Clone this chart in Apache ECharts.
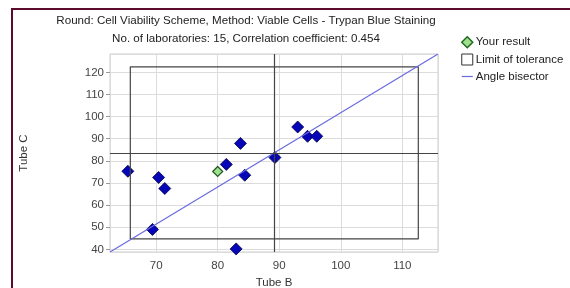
<!DOCTYPE html>
<html>
<head>
<meta charset="utf-8">
<script src="https://cdn.jsdelivr.net/npm/echarts@6/dist/echarts.min.js"></script>
<style>
html, body { margin: 0; padding: 0; background: #fff; }
#frame { position: absolute; left: 11px; top: 8px; width: 559px; height: 280px;
         border-top: 2px solid #5c0b2c; border-left: 2px solid #5c0b2c; }
#chart { position: absolute; left: 0; top: 0; width: 570px; height: 288px; }
</style>
</head>
<body>
<div id="frame"></div>
<div id="chart"></div>
<script>
// axis ranges (Tube B / Tube C)
var xRange = [62.5, 115.8];
var yRange = [38.8, 128.3];
// laboratories
var tubeB = [65.4, 70.4, 71.4, 69.4, 81.4, 83.7, 84.4, 83.0, 89.3, 93.0, 94.6, 96.1];
var tubeC = [75.3, 72.5, 67.5, 49.0, 78.4, 87.9, 73.5, 40.2, 81.5, 95.3, 91.1, 91.1];
// own result
var yourResult = [80.0, 75.2];
// limit of tolerance box and its centre
var limitB = [65.8, 112.6];
var limitC = [44.7, 122.5];
var centre = [89.2, 83.6];

var font = 'Liberation Sans, Arial, sans-serif';

var labPoints = [];
for (var i = 0; i < tubeB.length; i++) labPoints.push([tubeB[i], tubeC[i]]);

var boxPoints = [
    [limitB[0], limitC[0]], [limitB[1], limitC[0]],
    [limitB[1], limitC[1]], [limitB[0], limitC[1]],
    [limitB[0], limitC[0]]
];

var myChart = echarts.init(document.getElementById('chart'));

var option = {
    animation: false,
    title: {
        text: 'Round: Cell Viability Scheme, Method: Viable Cells - Trypan Blue Staining\nNo. of laboratories: 15, Correlation coefficient: 0.454',
        left: 241,
        top: 7,
        textAlign: 'center',
        textStyle: { fontFamily: font, fontSize: 11.6, fontWeight: 'normal', color: '#222', lineHeight: 18 }
    },
    legend: {
        orient: 'vertical',
        left: 456,
        top: 31,
        itemGap: 5,
        itemWidth: 11,
        itemHeight: 11,
        textStyle: { fontFamily: font, fontSize: 11.5, color: '#222', padding: [0, 0, 0, -2] },
        data: [
            { name: 'Your result', icon: 'path://M0,4 L4,0 L8,4 L4,8 Z', itemStyle: { color: '#9fe08f', borderColor: '#1f6a1f', borderWidth: 1.5 } },
            { name: 'Limit of tolerance', icon: 'rect', itemStyle: { color: '#fff', borderColor: '#333', borderWidth: 1 } },
            { name: 'Angle bisector', icon: 'path://M0,0 L12,0 L12,1.3 L0,1.3 Z', itemStyle: { color: '#6a6ae0' } }
        ]
    },
    grid: {
        left: 110,
        right: 132,
        top: 54,
        bottom: 36,
        outerBoundsMode: 'none',
        containLabel: false,
        show: true,
        borderColor: '#cfcfcf',
        borderWidth: 1
    },
    xAxis: {
        type: 'value',
        min: xRange[0],
        max: xRange[1],
        minInterval: 10,
        maxInterval: 10,
        name: 'Tube B',
        nameLocation: 'middle',
        nameGap: 24,
        nameTextStyle: { fontFamily: font, fontSize: 11.5, color: '#333' },
        axisLine: { show: false },
        axisTick: { show: false },
        axisLabel: { fontFamily: font, fontSize: 11.5, color: '#444', margin: 8, showMinLabel: false, showMaxLabel: false },
        splitLine: { lineStyle: { color: '#dcdcdc' } }
    },
    yAxis: {
        type: 'value',
        min: yRange[0],
        max: yRange[1],
        minInterval: 10,
        maxInterval: 10,
        name: 'Tube C',
        nameLocation: 'middle',
        nameGap: 80,
        nameTextStyle: { fontFamily: font, fontSize: 11.5, color: '#333' },
        axisLine: { show: false },
        axisTick: { show: true, length: 4, lineStyle: { color: '#999' } },
        axisLabel: { fontFamily: font, fontSize: 11.5, color: '#444', margin: 6, showMinLabel: false, showMaxLabel: false },
        splitLine: { lineStyle: { color: '#dcdcdc' } }
    },
    series: [
        {
            name: 'Limit of tolerance',
            type: 'line',
            data: boxPoints,
            symbol: 'none',
            silent: true,
            lineStyle: { color: '#444', width: 1.2 },
            markLine: {
                silent: true,
                symbol: 'none',
                label: { show: false },
                lineStyle: { color: '#444', width: 1.2, type: 'solid' },
                data: [{ xAxis: centre[0] }, { yAxis: centre[1] }]
            }
        },
        {
            name: 'Angle bisector',
            type: 'line',
            data: [[xRange[0], yRange[0]], [xRange[1], yRange[1]]],
            symbol: 'none',
            lineStyle: { color: '#6a6ae0', width: 1.2 }
        },
        {
            name: 'Laboratories',
            type: 'scatter',
            data: labPoints,
            symbol: 'diamond',
            symbolSize: [12, 12],
            itemStyle: { color: '#0606b8', borderColor: '#000040', borderWidth: 0.8, opacity: 1 }
        },
        {
            name: 'Your result',
            type: 'scatter',
            data: [yourResult],
            symbol: 'diamond',
            symbolSize: [10, 10],
            itemStyle: { color: '#9fe08f', borderColor: '#1f5a1f', borderWidth: 1.2, opacity: 1 }
        }
    ]
};

myChart.setOption(option);
</script>
</body>
</html>
